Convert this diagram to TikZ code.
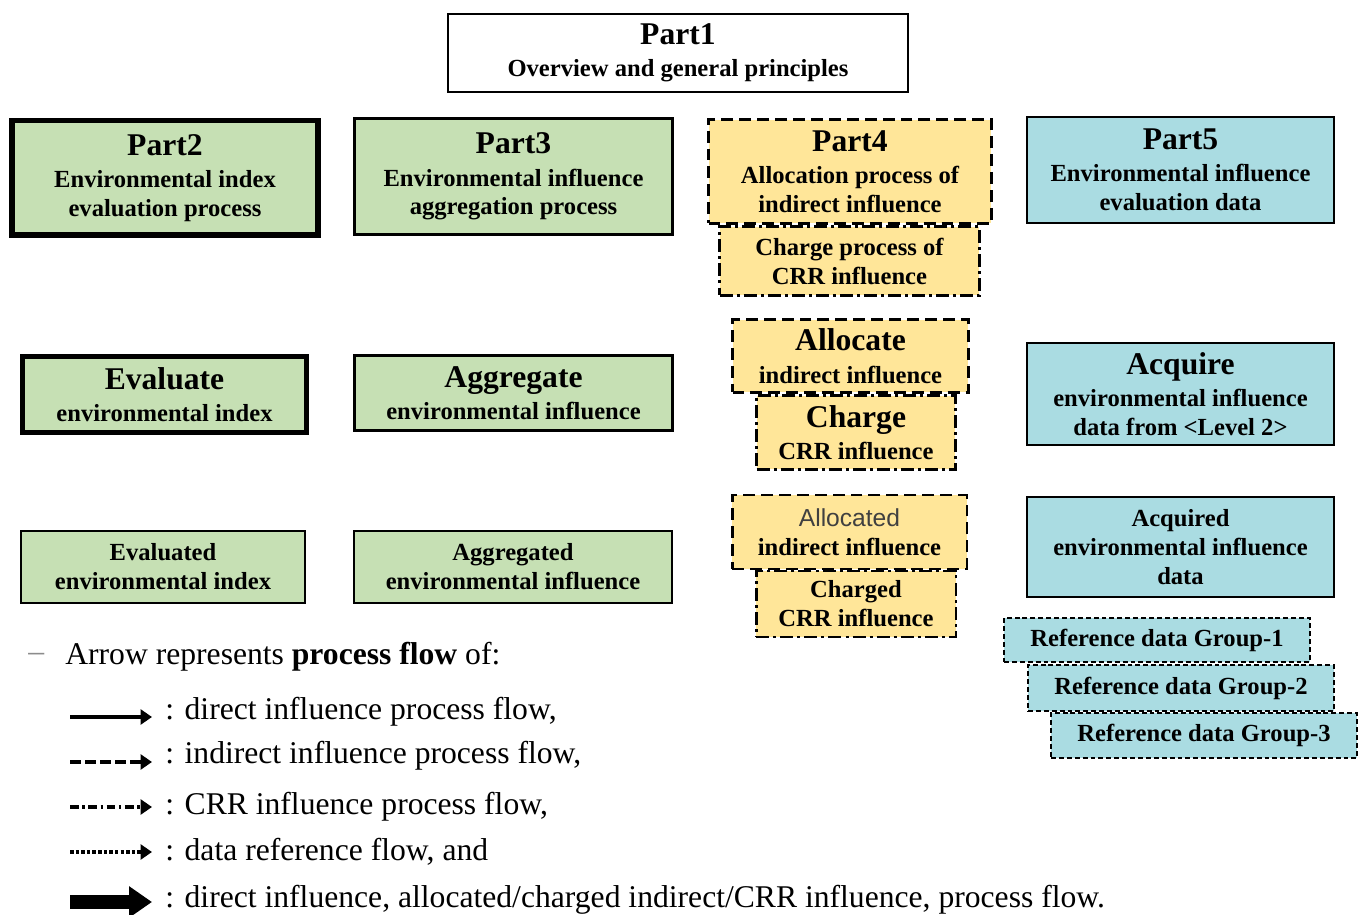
\documentclass[tikz,border=0pt]{standalone}
\usepackage{fontspec}
\setmainfont{Liberation Serif}
\newfontfamily\allocfont{Liberation Sans}
\usetikzlibrary{arrows.meta}

\definecolor{procgreen}{RGB}{198,224,180}
\definecolor{allocyellow}{RGB}{255,230,153}
\definecolor{datablue}{RGB}{170,220,226}

\newcommand{\titlesize}{\fontsize{18}{20}\selectfont}
\newcommand{\bodysize}{\fontsize{14}{16.5}\selectfont}

\tikzset{
  box/.style={rectangle, draw=black, align=center, inner sep=1pt, font=\bodysize\bfseries},
  greenbox/.style={box, fill=procgreen},
  yellowbox/.style={box, fill=allocyellow},
  bluebox/.style={box, fill=datablue, line width=1.2pt},
  indirect/.style={dash pattern=on 6.8pt off 3.4pt},
  crr/.style={dash pattern=on 7.4pt off 2.3pt on 1.7pt off 2.3pt},
  refdata/.style={dash pattern=on 2.8pt off 1.7pt},
  legtext/.style={anchor=west, inner sep=0pt, font=\fontsize{18}{20}\selectfont},
  flow/.style={line width=2.6pt, -{Triangle[length=6.5pt,width=8.5pt]}},
  solidflow/.style={flow},
  dashflow/.style={flow, dash pattern=on 6pt off 2.6pt},
  crrflow/.style={flow, dash pattern=on 5pt off 2pt on 1.4pt off 2pt},
  dataflow/.style={flow, dash pattern=on 2pt off 1.2pt},
  bigflow/.style={line width=8pt, -{Triangle[length=13pt,width=17pt]}},
}

\begin{document}
\begin{tikzpicture}[x=0.02cm, y=-0.02cm]
\useasboundingbox (0,0) rectangle (1367,915);

% Part 1
\node[box, fill=white, line width=1.1pt, minimum width=9.2cm, minimum height=1.56cm] (p1) at (678,53)
  {{\titlesize Part1}\\[2pt] Overview and general principles};

% parts 2 to 5
\node[greenbox, line width=3.4pt, minimum width=6.12cm, minimum height=2.3cm] (p2) at (165,178)
  {{\titlesize Part2}\\[2pt] Environmental index\\ evaluation process};
\node[greenbox, line width=1.7pt, minimum width=6.36cm, minimum height=2.32cm] (p3) at (513.5,176.5)
  {{\titlesize Part3}\\[2pt] Environmental influence\\ aggregation process};
\node[yellowbox, crr, line width=1.7pt, minimum width=5.2cm, minimum height=1.38cm] (p4crr) at (849.5,261)
  {Charge process of\\ CRR influence};
\node[yellowbox, indirect, line width=1.7pt, minimum width=5.66cm, minimum height=2.08cm] (p4) at (850,171.5)
  {{\titlesize Part4}\\[2pt] Allocation process of\\ indirect influence};
\node[bluebox, minimum width=6.14cm, minimum height=2.12cm] (p5) at (1180.5,170)
  {{\titlesize Part5}\\[2pt] Environmental influence\\ evaluation data};

% processes
\node[greenbox, line width=2.8pt, minimum width=5.68cm, minimum height=1.52cm] (evaluate) at (164.5,394.5)
  {{\titlesize Evaluate}\\[2pt] environmental index};
\node[greenbox, line width=1.7pt, minimum width=6.36cm, minimum height=1.5cm] (aggregate) at (513.5,393)
  {{\titlesize Aggregate}\\[2pt] environmental influence};
\node[yellowbox, crr, line width=1.7pt, minimum width=3.98cm, minimum height=1.48cm] (charge) at (856,432.5)
  {{\titlesize Charge}\\[2pt] CRR influence};
\node[yellowbox, indirect, line width=1.7pt, minimum width=4.72cm, minimum height=1.46cm] (allocate) at (850.5,356)
  {{\titlesize Allocate}\\[2pt] indirect influence};
\node[bluebox, minimum width=6.14cm, minimum height=2.04cm] (acquire) at (1180.5,394)
  {{\titlesize Acquire}\\[2pt] environmental influence\\ data from <Level 2>};

% results
\node[greenbox, line width=0.9pt, minimum width=5.69cm, minimum height=1.45cm] (evaluated) at (163,567)
  {Evaluated\\ environmental index};
\node[greenbox, line width=0.9pt, minimum width=6.37cm, minimum height=1.45cm] (aggregated) at (513,567)
  {Aggregated\\ environmental influence};
\node[yellowbox, crr, line width=1.4pt, minimum width=3.99cm, minimum height=1.31cm] (charged) at (856,604)
  {Charged\\ CRR influence};
\node[yellowbox, indirect, line width=1.4pt, minimum width=4.69cm, minimum height=1.47cm] (allocated) at (849.5,532)
  {{\allocfont\mdseries\color{black!75}Allocated}\\ indirect influence};
\node[bluebox, minimum width=6.14cm, minimum height=2.0cm] (acquired) at (1180.5,547)
  {Acquired\\ environmental influence\\ data};

% reference data groups
\node[bluebox, refdata, minimum width=6.12cm, minimum height=0.88cm] (ref1) at (1157,640) {Reference data Group-1};
\node[bluebox, refdata, minimum width=6.12cm, minimum height=0.92cm] (ref2) at (1181,688) {Reference data Group-2};
\node[bluebox, refdata, minimum width=6.12cm, minimum height=0.9cm] (ref3) at (1204,735.5) {Reference data Group-3};

% legend
\node[legtext, text=black!45] (dash) at (28,657) {--};
\node[legtext] (legtitle) at (65,657) {Arrow represents \textbf{process flow} of:};

\foreach \sty/\yy [count=\i] in {solidflow/717, dashflow/762, crrflow/807, dataflow/852, bigflow/902} {
  \coordinate (ls\i) at (70,\yy);
  \coordinate (le\i) at (152,\yy);
  \draw[\sty] (ls\i) -- (le\i);
}

\node[legtext] (leg1) at (165,712) {: direct influence process flow,};
\node[legtext] (leg2) at (165,756) {: indirect influence process flow,};
\node[legtext] (leg3) at (165,807) {: CRR influence process flow,};
\node[legtext] (leg4) at (165,852) {: data reference flow, and};
\node[legtext] (leg5) at (165,900) {: direct influence, allocated/charged indirect/CRR influence, process flow.};
\end{tikzpicture}
\end{document}
